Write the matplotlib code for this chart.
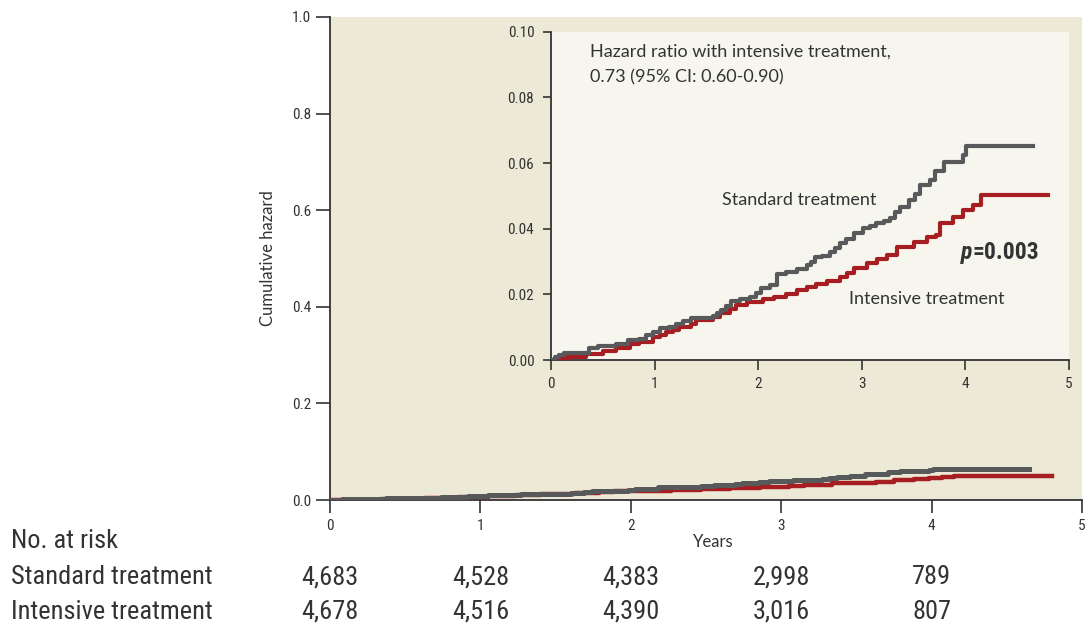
import matplotlib
matplotlib.use("Agg")
import matplotlib.pyplot as plt

# ---------------- data ----------------
std_t = [0, 0.04, 0.08, 0.13, 0.37, 0.45, 0.63, 0.74, 0.85, 0.92, 0.98, 1.05, 1.14, 1.21, 1.27,
         1.35, 1.56, 1.60, 1.64, 1.69, 1.74, 1.82, 1.92, 1.98, 2.03, 2.11, 2.18, 2.27, 2.37,
         2.47, 2.51, 2.55, 2.62, 2.69, 2.74, 2.79, 2.85, 2.92, 3.01, 3.08, 3.14, 3.21, 3.27,
         3.32, 3.37, 3.46, 3.51, 3.56, 3.66, 3.71, 3.79, 3.98, 4.01, 4.65]
std_v = [0, 0.0008, 0.0015, 0.0022, 0.0038, 0.0042, 0.0050, 0.0061, 0.0065, 0.0076, 0.0086,
         0.0096, 0.0101, 0.0109, 0.0119, 0.0129, 0.0133, 0.0142, 0.0152, 0.0166, 0.0179,
         0.0185, 0.0192, 0.0204, 0.0220, 0.0229, 0.0263, 0.0268, 0.0278, 0.0288, 0.0300,
         0.0313, 0.0318, 0.0330, 0.0342, 0.0355, 0.0370, 0.0386, 0.0401, 0.0408, 0.0416,
         0.0424, 0.0432, 0.0450, 0.0467, 0.0487, 0.0507, 0.0533, 0.0548, 0.0575, 0.0604,
         0.0624, 0.0652, 0.0652]

int_t = [0, 0.05, 0.15, 0.34, 0.50, 0.63, 0.76, 0.85, 0.98, 1.05, 1.11, 1.18, 1.24, 1.35, 1.40,
         1.56, 1.63, 1.73, 1.79, 1.89, 2.05, 2.15, 2.27, 2.37, 2.47, 2.56, 2.66, 2.79, 2.86,
         2.92, 3.05, 3.15, 3.24, 3.34, 3.50, 3.63, 3.72, 3.75, 3.88, 3.98, 4.07, 4.15, 4.80]
int_v = [0, 0.0003, 0.0010, 0.0018, 0.0028, 0.0038, 0.0048, 0.0056, 0.0069, 0.0077, 0.0085,
         0.0092, 0.0099, 0.0111, 0.0123, 0.0131, 0.0143, 0.0154, 0.0167, 0.0177, 0.0187,
         0.0192, 0.0200, 0.0212, 0.0222, 0.0232, 0.0242, 0.0254, 0.0266, 0.0279, 0.0294,
         0.0307, 0.0320, 0.0343, 0.0360, 0.0376, 0.0381, 0.0416, 0.0437, 0.0457, 0.0472,
         0.0503, 0.0503]

years = [0, 1, 2, 3, 4, 5]
main_yticks = [0.0, 0.2, 0.4, 0.6, 0.8, 1.0]
inset_yticks = [0.00, 0.02, 0.04, 0.06, 0.08, 0.10]
risk_years = [0, 1, 2, 3, 4]
risk_std = ["4,683", "4,528", "4,383", "2,998", "789"]
risk_int = ["4,678", "4,516", "4,390", "3,016", "807"]

# ---------------- style ----------------
cond_fam = ["Roboto Condensed", "DejaVu Sans"]
reg_fam = ["Lato", "DejaVu Sans"]

GRAY = "#58595b"
RED = "#a71e22"
TXT = "#333333"
AXC = "#333333"
BG_MAIN = "#ece9d7"
BG_IN = "#f7f6ee"

fig = plt.figure(figsize=(10.85, 6.26), dpi=100)
W, H = 1085, 626

def box(l, r, t, b):
    return [l / W, 1 - b / H, (r - l) / W, (b - t) / H]

# ---------------- main axes ----------------
ax = fig.add_axes(box(330, 1082, 17, 500))
ax.set_facecolor(BG_MAIN)
ax.step(int_t, int_v, where="post", color=RED, lw=3.2, zorder=3)
ax.step(std_t, std_v, where="post", color=GRAY, lw=3.6, zorder=4)
ax.set_xlim(0, 5)
ax.set_ylim(0, 1)
ax.set_xticks(years)
ax.set_xticklabels([str(y) for y in years], family=cond_fam, fontsize=11, color=TXT)
ax.set_yticks(main_yticks)
ax.set_yticklabels([f"{v:.1f}" for v in main_yticks], family=cond_fam, fontsize=11, color=TXT)
for s in ["top", "right"]:
    ax.spines[s].set_visible(False)
for s in ["left", "bottom"]:
    ax.spines[s].set_color(AXC)
    ax.spines[s].set_linewidth(1.3)
ax.tick_params(axis="x", direction="out", length=9.5, width=1.2, color=AXC, pad=4)
ax.tick_params(axis="y", direction="out", length=10, width=1.2, color=AXC, pad=3.5)

# ---------------- inset axes ----------------
axi = fig.add_axes(box(551, 1069, 31.7, 360))
axi.set_facecolor(BG_IN)
axi.step(int_t, int_v, where="post", color=RED, lw=3.0, zorder=3)
axi.step(std_t, std_v, where="post", color=GRAY, lw=3.0, zorder=4)
axi.set_xlim(0, 5)
axi.set_ylim(0, 0.10)
axi.set_xticks(years)
axi.set_xticklabels([str(y) for y in years], family=cond_fam, fontsize=11, color=TXT)
axi.set_yticks(inset_yticks)
axi.set_yticklabels([f"{v:.2f}" for v in inset_yticks], family=cond_fam, fontsize=11, color=TXT)
for s in ["top", "right"]:
    axi.spines[s].set_visible(False)
for s in ["left", "bottom"]:
    axi.spines[s].set_color(AXC)
    axi.spines[s].set_linewidth(1.3)
axi.tick_params(axis="x", direction="out", length=7, width=1.2, color=AXC, pad=5)
axi.tick_params(axis="y", direction="out", length=6, width=1.2, color=AXC, pad=6)

axi.text(0.38, 0.0938, "Hazard ratio with intensive treatment,", family=reg_fam,
         fontsize=13, color=TXT, va="center", ha="left")
axi.text(0.38, 0.0862, "0.73 (95% CI: 0.60-0.90)", family=reg_fam,
         fontsize=13, color=TXT, va="center", ha="left")
axi.text(1.65, 0.0487, "Standard treatment", family=reg_fam, fontsize=13, color=TXT,
         va="center", ha="left")
axi.text(2.88, 0.0186, "Intensive treatment", family=reg_fam, fontsize=13, color=TXT,
         va="center", ha="left")
axi.text(3.96, 0.0326, "p", family=cond_fam, fontsize=17, color=TXT,
         va="center", ha="left", fontweight="bold", fontstyle="italic")
axi.text(4.065, 0.0326, "=0.003", family=cond_fam, fontsize=17, color=TXT,
         va="center", ha="left", fontweight="bold")

# ---------------- labels ----------------
fig.text(268 / W, 1 - 258 / H, "Cumulative hazard", rotation=90, family=reg_fam,
         fontsize=12, color=TXT, va="center", ha="center")
fig.text(713 / W, 1 - 542 / H, "Years", family=reg_fam, fontsize=12, color=TXT,
         va="center", ha="center")

# ---------------- number at risk ----------------
fig.text(11 / W, 1 - 541 / H, "No. at risk", family=cond_fam, fontsize=19, color=TXT,
         va="center", ha="left")
fig.text(11 / W, 1 - 577 / H, "Standard treatment", family=cond_fam, fontsize=19, color=TXT,
         va="center", ha="left")
fig.text(11 / W, 1 - 612 / H, "Intensive treatment", family=cond_fam, fontsize=19, color=TXT,
         va="center", ha="left")
for yr, a, b in zip(risk_years, risk_std, risk_int):
    xf = ax.transData.transform((yr, 0))[0] / fig.bbox.width
    fig.text(xf, 1 - 577 / H, a, family=cond_fam, fontsize=19, color=TXT, va="center", ha="center")
    fig.text(xf, 1 - 612 / H, b, family=cond_fam, fontsize=19, color=TXT, va="center", ha="center")

fig.savefig("out.png", dpi=100, facecolor="white")
